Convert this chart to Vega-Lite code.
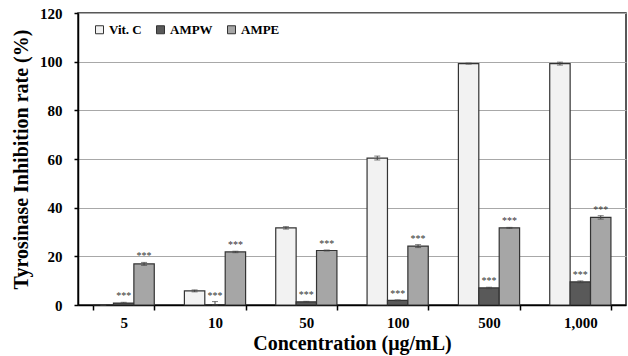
{
  "$schema": "https://vega.github.io/schema/vega-lite/v6.json",
  "width": 548,
  "height": 292,
  "autosize": {"type": "none"},
  "padding": {"left": 78, "top": 13, "right": 2, "bottom": 51},
  "background": "white",
  "config": {
    "font": "Liberation Serif",
    "view": {"stroke": "#222", "strokeWidth": 1.5},
    "axis": {"labelFont": "Liberation Serif", "titleFont": "Liberation Serif", "labelFontWeight": "bold", "titleFontWeight": "bold", "labelColor": "#000", "titleColor": "#000", "domainColor": "#000", "tickColor": "#000", "domainWidth": 1.5, "tickWidth": 1.5}
  },
  "data": {"values": [
    {"conc": "5", "series": "Vit. C", "value": 0, "lo": 0, "hi": 0, "star": ""},
    {"conc": "5", "series": "AMPW", "value": 0.8, "lo": 0.5, "hi": 1.1, "star": "***"},
    {"conc": "5", "series": "AMPE", "value": 16.9, "lo": 16.3, "hi": 17.5, "star": "***"},
    {"conc": "10", "series": "Vit. C", "value": 5.8, "lo": 5.4, "hi": 6.2, "star": ""},
    {"conc": "10", "series": "AMPW", "value": 0.1, "lo": 0, "hi": 1.4, "star": "***"},
    {"conc": "10", "series": "AMPE", "value": 21.8, "lo": 21.5, "hi": 22.1, "star": "***"},
    {"conc": "50", "series": "Vit. C", "value": 31.7, "lo": 31.2, "hi": 32.2, "star": ""},
    {"conc": "50", "series": "AMPW", "value": 1.3, "lo": 1.1, "hi": 1.5, "star": "***"},
    {"conc": "50", "series": "AMPE", "value": 22.4, "lo": 22.2, "hi": 22.6, "star": "***"},
    {"conc": "100", "series": "Vit. C", "value": 60.4, "lo": 59.6, "hi": 61.2, "star": ""},
    {"conc": "100", "series": "AMPW", "value": 1.9, "lo": 1.7, "hi": 2.1, "star": "***"},
    {"conc": "100", "series": "AMPE", "value": 24.2, "lo": 23.6, "hi": 24.8, "star": "***"},
    {"conc": "500", "series": "Vit. C", "value": 99.2, "lo": 99.0, "hi": 99.4, "star": ""},
    {"conc": "500", "series": "AMPW", "value": 7.0, "lo": 6.7, "hi": 7.3, "star": "***"},
    {"conc": "500", "series": "AMPE", "value": 31.7, "lo": 31.5, "hi": 31.9, "star": "***"},
    {"conc": "1,000", "series": "Vit. C", "value": 99.2, "lo": 98.6, "hi": 99.8, "star": ""},
    {"conc": "1,000", "series": "AMPW", "value": 9.5, "lo": 9.1, "hi": 9.9, "star": "***"},
    {"conc": "1,000", "series": "AMPE", "value": 36.0, "lo": 35.3, "hi": 36.7, "star": "***"}
  ]},
  "encoding": {
    "x": {"field": "conc", "type": "nominal", "sort": ["5", "10", "50", "100", "500", "1,000"],
      "scale": {"paddingInner": 0.33, "paddingOuter": 0.165},
      "axis": {"title": "Concentration (μg/mL)", "labelAngle": 0, "labelFontSize": 15, "titleFontSize": 20, "tickBand": "extent", "tickSize": 5, "labelPadding": 5, "titleY": 44, "titleBaseline": "alphabetic"}},
    "xOffset": {"field": "series", "type": "nominal", "sort": ["Vit. C", "AMPW", "AMPE"], "scale": {"paddingInner": 0, "paddingOuter": 0}}
  },
  "layer": [
    {
      "mark": {"type": "bar", "stroke": "#333", "strokeWidth": 1.2},
      "encoding": {
        "y": {"field": "value", "type": "quantitative", "scale": {"domain": [0, 120]},
          "axis": {"title": "Tyrosinase  Inhibition rate (%)", "values": [0, 20, 40, 60, 80, 100, 120], "labelFontSize": 15, "titleFontSize": 20, "tickSize": 4, "labelPadding": 12, "gridColor": "#a8a8a8", "gridWidth": 1, "titleX": -57, "titleBaseline": "middle"}},
        "fill": {"field": "series", "type": "nominal",
          "scale": {"domain": ["Vit. C", "AMPW", "AMPE"], "range": ["#f2f2f2", "#595959", "#a6a6a6"]},
          "legend": {"title": null, "orient": "none", "direction": "horizontal", "legendX": 15, "legendY": 10, "symbolType": "square", "symbolSize": 64, "symbolStrokeColor": "#333", "symbolStrokeWidth": 1, "labelFont": "Liberation Serif", "labelFontWeight": "bold", "labelFontSize": 13, "labelColor": "#000", "columnPadding": 12, "labelOffset": 3}}
      }
    },
    {
      "mark": {"type": "rule", "color": "#444", "strokeWidth": 1},
      "encoding": {"y": {"field": "lo", "type": "quantitative"}, "y2": {"field": "hi"}}
    },
    {
      "mark": {"type": "tick", "color": "#444", "thickness": 1, "size": 6, "orient": "horizontal"},
      "encoding": {"y": {"field": "hi", "type": "quantitative"}}
    },
    {
      "mark": {"type": "tick", "color": "#444", "thickness": 1, "size": 6, "orient": "horizontal"},
      "encoding": {"y": {"field": "lo", "type": "quantitative"}}
    },
    {
      "mark": {"type": "text", "fontSize": 10, "color": "#333", "baseline": "bottom", "dy": -1, "font": "Liberation Serif"},
      "encoding": {"y": {"field": "hi", "type": "quantitative"}, "text": {"field": "star"}}
    }
  ]
}
